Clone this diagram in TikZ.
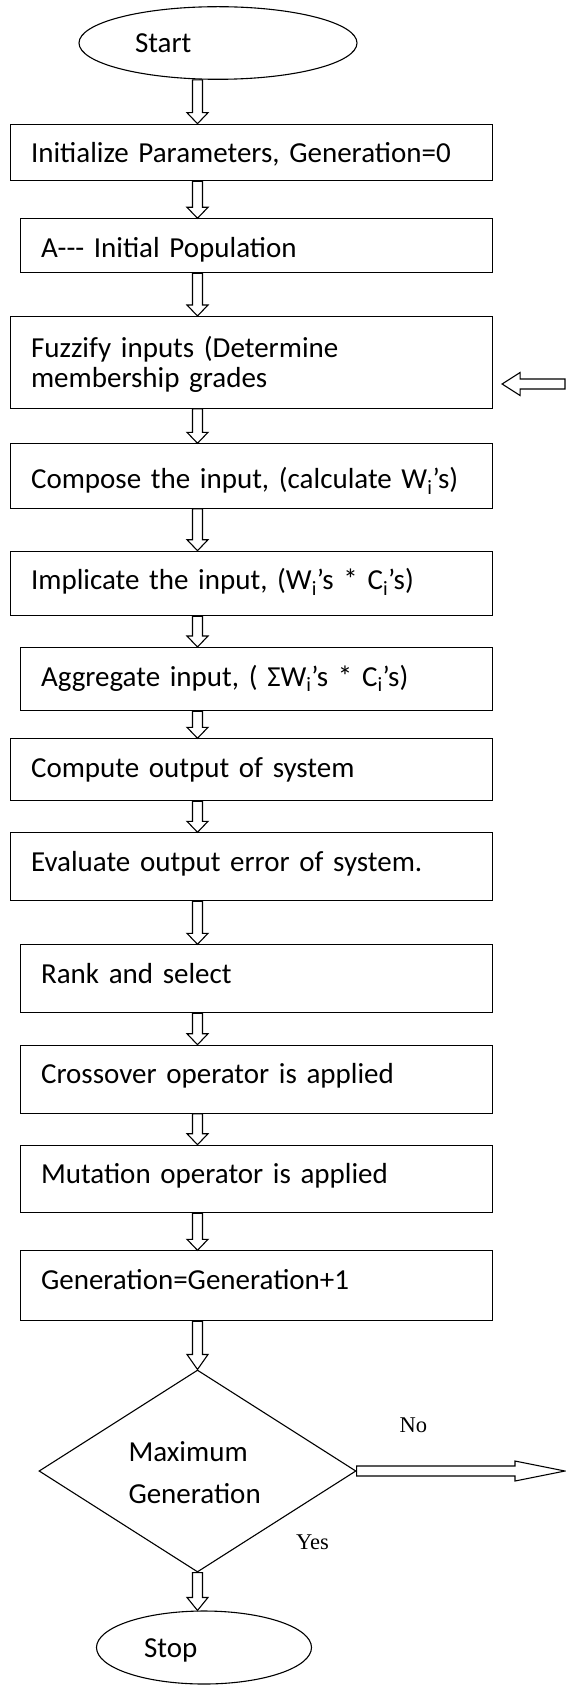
\documentclass[tikz,border=0pt]{standalone}
\usepackage{fontspec}
\setmainfont{Carlito}
\newfontfamily\timesfont{Liberation Serif}
\usepackage{tikz}
\usetikzlibrary{shapes.geometric, calc}

\tikzset{
    head len/.store in=\flowhead, head len=11pt,
    head wid/.store in=\flowwide, head wid=10.5pt
}

\begin{document}
\begin{tikzpicture}[
    x=1pt, y=-1pt,
    line width=1.1pt,
    every node/.style={font=\fontsize{29pt}{30pt}\selectfont},
    stepbox/.style={
        rectangle,
        draw,
        anchor=north west,
        align=left,
        inner xsep=20.5pt,
        inner ysep=0pt,
        text width=441pt,
        text height=38.5pt
    },
    inset/.style={text width=431pt},
    terminal/.style={
        ellipse,
        draw,
        inner sep=0pt,
        text height=20pt,
        text depth=0pt
    },
    decision/.style={
        diamond,
        draw,
        align=left,
        text width=138pt,
        inner sep=0pt,
        minimum width=317pt,
        minimum height=168pt,
        text height=22.7pt,
        text depth=41.3pt,
        font=\fontsize{29pt}{41.3pt}\selectfont
    },
    tag/.style={
        anchor=base west,
        inner sep=0pt,
        font=\timesfont\fontsize{22.5pt}{27pt}\selectfont
    },
    flow/.style={
        to path={
            let \p1=(\tikztostart), \p2=(\tikztotarget),
                \p3=($(\p2)!\flowhead!(\p1)$) in
            ($(\p1)!5pt!90:(\p2)$) -- ($(\p3)!5pt!90:(\p2)$) --
            ($(\p3)!\flowwide!90:(\p2)$) -- (\p2) --
            ($(\p3)!\flowwide!-90:(\p2)$) -- ($(\p3)!5pt!-90:(\p2)$) --
            ($(\p1)!5pt!-90:(\p2)$) -- cycle
        }
    }
]
\useasboundingbox (0,0) rectangle (565,1685);

% Nodes
\node[terminal, minimum width=278pt, minimum height=72.6pt] (start) at (218,43) {\makebox[166pt][l]{Start}};

\node[stepbox, text depth=18.1pt] (init) at (10,123.7) {Initialize Parameters, Generation=0};

\node[stepbox, inset, text depth=15.5pt] (popul) at (20,218.3) {A-{}-{}- Initial Population};

\node[stepbox, text height=40.7pt, text depth=51pt] (fuzz) at (10,316) {Fuzzify inputs (Determine\\membership grades};

\node[stepbox, text height=45pt, text depth=19.4pt] (compose) at (10,443.3) {Compose the input, (calculate W\textsubscript{i}’s)};

\node[stepbox, text depth=26.1pt] (implic) at (10,550.7) {Implicate the input, (W\textsubscript{i}’s * C\textsubscript{i}’s)};

\node[stepbox, inset, text depth=24.8pt] (aggreg) at (20,647) {Aggregate input, ( ΣW\textsubscript{i}’s * C\textsubscript{i}’s)};

\node[stepbox, text depth=23.5pt] (compute) at (10,738.3) {Compute output of system};

\node[stepbox, text depth=29.5pt] (evalerr) at (10,832.3) {Evaluate output error of system.};

\node[stepbox, inset, text depth=29.5pt] (ranksel) at (20,944.3) {Rank and select};

\node[stepbox, inset, text depth=29.5pt] (cross) at (20,1044.7) {Crossover operator is applied};

\node[stepbox, inset, text depth=29.1pt] (mutate) at (20,1144.7) {Mutation operator is applied};

\node[stepbox, inset, text depth=31.5pt] (nextgen) at (20,1250.3) {Generation=Generation+1};

\node[decision] (maxgen) at (197.5,1471) {Maximum\\Generation};

\node[terminal, minimum width=215pt, minimum height=73pt] (stop) at (204,1647.5) {\makebox[120pt][l]{Stop}};

\node[tag] (no) at (399,1432.7) {No};
\node[tag] (yes) at (295.5,1549.3) {Yes};

\coordinate (spine) at (197.5,0);
\coordinate (back) at (565,384);
\coordinate (backtip) at ($(fuzz.east |- back)+(9pt,0)$);
\coordinate (exit) at (565,1471);

% Arrows
\draw[flow] (start.south -| spine) to (init.north -| spine);
\draw[flow] (init.south -| spine) to (popul.north -| spine);
\draw[flow] (popul.south -| spine) to (fuzz.north -| spine);
\draw[flow] (fuzz.south -| spine) to (compose.north -| spine);
\draw[flow] (compose.south -| spine) to (implic.north -| spine);
\draw[flow] (implic.south -| spine) to (aggreg.north -| spine);
\draw[flow] (aggreg.south -| spine) to (compute.north -| spine);
\draw[flow] (compute.south -| spine) to (evalerr.north -| spine);
\draw[flow] (evalerr.south -| spine) to (ranksel.north -| spine);
\draw[flow] (ranksel.south -| spine) to (cross.north -| spine);
\draw[flow] (cross.south -| spine) to (mutate.north -| spine);
\draw[flow] (mutate.south -| spine) to (nextgen.north -| spine);
\draw[flow, head len=15pt] (nextgen.south -| spine) to (maxgen.north);

% Decision exits
\draw[flow, head len=13pt] (maxgen.south) to (stop.north -| spine);
\draw[flow, head len=50pt, head wid=10pt] (maxgen.east) to (exit);

% Loop back in
\draw[flow, head len=18pt, head wid=11.5pt] (back) to (backtip);

\end{tikzpicture}
\end{document}
